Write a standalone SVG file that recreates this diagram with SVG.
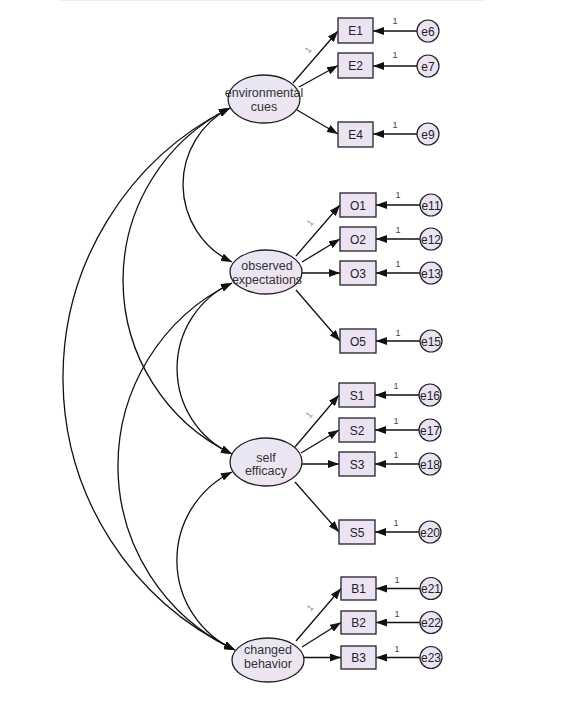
<svg xmlns="http://www.w3.org/2000/svg" width="564" height="701" viewBox="0 0 564 701">
<style>
.lat{fill:url(#g);stroke:#222;stroke-width:1.3}
.obs{fill:#ebe3f3;stroke:#222;stroke-width:1.3}
.err{fill:#ebe3f3;stroke:#222;stroke-width:1.2}
.t{font-family:"Liberation Sans",Arial,sans-serif;fill:#333;text-anchor:middle}
.lt{font-size:12.5px}
.bt{font-size:12px;fill:#222}
.w{font-family:"Liberation Sans",Arial,sans-serif;font-size:9px;fill:#444;text-anchor:middle}
.wr{font-family:"Liberation Sans",Arial,sans-serif;font-size:9px;fill:#888;text-anchor:middle}
.c path,.c line{fill:none;stroke:#111;stroke-width:1.3}
.one{marker-end:url(#ah)}
.two{marker-start:url(#ah);marker-end:url(#ah)}
</style>
<defs>
<linearGradient id="g" x1="0" y1="0" x2="1" y2="1">
<stop offset="0" stop-color="#e6e8f6"/>
<stop offset="1" stop-color="#f2e2f0"/>
</linearGradient>
<marker id="ah" viewBox="0 0 11 8" refX="11" refY="4" markerWidth="11" markerHeight="8" markerUnits="userSpaceOnUse" orient="auto-start-reverse">
<path d="M0,0 L11,4 L0,8 z" fill="#111"/>
</marker>
</defs>
<rect width="564" height="701" fill="#fff"/>
<line x1="58" y1="0.5" x2="485" y2="0.5" stroke="#eeeeee" stroke-width="1"/>
<g id="connectors" class="c">
<path class="two" d="M230,108 A85.8,85.8 0 0 0 232,262"/>
<path class="two" d="M230,108 A192.6,192.6 0 0 0 232,454"/>
<path class="two" d="M230,108 A301.4,301.4 0 0 0 235,650"/>
<path class="two" d="M232,283 A94,94 0 0 0 232,454"/>
<path class="two" d="M232,283 A203.5,203.5 0 0 0 235,650"/>
<path class="two" d="M232,472 A98.3,98.3 0 0 0 235,650"/>
<line class="one" x1="293" y1="83" x2="338" y2="31"/>
<line class="one" x1="299" y1="87" x2="338" y2="65.5"/>
<line class="one" x1="297" y1="110" x2="338" y2="134"/>
<line class="one" x1="296" y1="256" x2="340" y2="205"/>
<line class="one" x1="302" y1="262" x2="340" y2="239"/>
<line class="one" x1="302" y1="273" x2="340" y2="273"/>
<line class="one" x1="296" y1="290" x2="340" y2="341"/>
<line class="one" x1="295" y1="447" x2="339" y2="395"/>
<line class="one" x1="301" y1="453" x2="339" y2="430"/>
<line class="one" x1="302" y1="464" x2="339" y2="464"/>
<line class="one" x1="295" y1="482" x2="339" y2="532"/>
<line class="one" x1="296" y1="641" x2="341" y2="588.5"/>
<line class="one" x1="302" y1="647" x2="341" y2="622.5"/>
<line class="one" x1="304" y1="657.5" x2="341" y2="657.5"/>
<line class="one" x1="417" y1="31" x2="373" y2="31"/>
<line class="one" x1="417" y1="66" x2="373" y2="66"/>
<line class="one" x1="417" y1="134" x2="373" y2="134"/>
<line class="one" x1="420" y1="205" x2="376" y2="205"/>
<line class="one" x1="420" y1="239" x2="376" y2="239"/>
<line class="one" x1="420" y1="273" x2="376" y2="273"/>
<line class="one" x1="420" y1="341" x2="376" y2="341"/>
<line class="one" x1="419" y1="395" x2="375" y2="395"/>
<line class="one" x1="419" y1="430" x2="375" y2="430"/>
<line class="one" x1="419" y1="464" x2="375" y2="464"/>
<line class="one" x1="419" y1="532" x2="375" y2="532"/>
<line class="one" x1="420" y1="588.5" x2="376" y2="588.5"/>
<line class="one" x1="420" y1="622.5" x2="376" y2="622.5"/>
<line class="one" x1="420" y1="657.5" x2="376" y2="657.5"/>
<text class="w" x="395" y="24">1</text>
<text class="w" x="395" y="58">1</text>
<text class="w" x="395" y="128">1</text>
<text class="w" x="398" y="198">1</text>
<text class="w" x="398" y="233">1</text>
<text class="w" x="398" y="267">1</text>
<text class="w" x="398" y="336">1</text>
<text class="w" x="396" y="389">1</text>
<text class="w" x="396" y="424">1</text>
<text class="w" x="396" y="458">1</text>
<text class="w" x="396" y="526">1</text>
<text class="w" x="397" y="583">1</text>
<text class="w" x="397" y="617">1</text>
<text class="w" x="397" y="652">1</text>
<text class="wr" x="308" y="53" transform="rotate(-50 308 50)">1</text>
<text class="wr" x="310" y="226" transform="rotate(-50 310 223)">1</text>
<text class="wr" x="309" y="418" transform="rotate(-50 309 415)">1</text>
<text class="wr" x="310" y="611" transform="rotate(-50 310 608)">1</text>
</g>
<g id="environmental_cues"><ellipse class="lat" cx="264" cy="99" rx="36" ry="24"/><text class="t lt" x="264" y="97">environmental</text><text class="t lt" x="264" y="111">cues</text></g>
<g id="observed_expectations"><ellipse class="lat" cx="266" cy="272" rx="36" ry="22"/><text class="t lt" x="267" y="270">observed</text><text class="t lt" x="267" y="284">expectations</text></g>
<g id="self_efficacy"><ellipse class="lat" cx="266" cy="462" rx="36" ry="24"/><text class="t lt" x="266" y="462">self</text><text class="t lt" x="266" y="475">efficacy</text></g>
<g id="changed_behavior"><ellipse class="lat" cx="268" cy="660" rx="36" ry="22"/><text class="t lt" x="268" y="654">changed</text><text class="t lt" x="268" y="668">behavior</text></g>
<g id="E1"><rect class="obs" x="338" y="18" width="35" height="25"/><text class="t bt" x="355.5" y="35">E1</text></g>
<g id="E2"><rect class="obs" x="338" y="53" width="35" height="25"/><text class="t bt" x="355.5" y="70">E2</text></g>
<g id="E4"><rect class="obs" x="338" y="122" width="35" height="25"/><text class="t bt" x="355.5" y="139">E4</text></g>
<g id="O1"><rect class="obs" x="340" y="193" width="36" height="24"/><text class="t bt" x="358" y="209.5">O1</text></g>
<g id="O2"><rect class="obs" x="340" y="227" width="36" height="24"/><text class="t bt" x="358" y="243.5">O2</text></g>
<g id="O3"><rect class="obs" x="340" y="261" width="36" height="24"/><text class="t bt" x="358" y="277.5">O3</text></g>
<g id="O5"><rect class="obs" x="340" y="329" width="36" height="24"/><text class="t bt" x="358" y="345.5">O5</text></g>
<g id="S1"><rect class="obs" x="339" y="383" width="36" height="24"/><text class="t bt" x="357" y="399.5">S1</text></g>
<g id="S2"><rect class="obs" x="339" y="418" width="36" height="24"/><text class="t bt" x="357" y="434.5">S2</text></g>
<g id="S3"><rect class="obs" x="339" y="452" width="36" height="24"/><text class="t bt" x="357" y="468.5">S3</text></g>
<g id="S5"><rect class="obs" x="339" y="520" width="36" height="24"/><text class="t bt" x="357" y="536.5">S5</text></g>
<g id="B1"><rect class="obs" x="341" y="577" width="35" height="23"/><text class="t bt" x="358.5" y="593">B1</text></g>
<g id="B2"><rect class="obs" x="341" y="611" width="35" height="23"/><text class="t bt" x="358.5" y="627">B2</text></g>
<g id="B3"><rect class="obs" x="341" y="646" width="35" height="23"/><text class="t bt" x="358.5" y="662">B3</text></g>
<g id="e6"><circle class="err" cx="428" cy="31" r="11"/><text class="t bt" x="428" y="35.5">e6</text></g>
<g id="e7"><circle class="err" cx="428" cy="66" r="11"/><text class="t bt" x="428" y="70.5">e7</text></g>
<g id="e9"><circle class="err" cx="428" cy="134" r="11"/><text class="t bt" x="428" y="138.5">e9</text></g>
<g id="e11"><circle class="err" cx="431" cy="205" r="11"/><text class="t bt" x="431" y="209.5">e11</text></g>
<g id="e12"><circle class="err" cx="431" cy="239" r="11"/><text class="t bt" x="431" y="243.5">e12</text></g>
<g id="e13"><circle class="err" cx="431" cy="273" r="11"/><text class="t bt" x="431" y="277.5">e13</text></g>
<g id="e15"><circle class="err" cx="431" cy="341" r="11"/><text class="t bt" x="431" y="345.5">e15</text></g>
<g id="e16"><circle class="err" cx="430" cy="395" r="11"/><text class="t bt" x="430" y="399.5">e16</text></g>
<g id="e17"><circle class="err" cx="430" cy="430" r="11"/><text class="t bt" x="430" y="434.5">e17</text></g>
<g id="e18"><circle class="err" cx="430" cy="464" r="11"/><text class="t bt" x="430" y="468.5">e18</text></g>
<g id="e20"><circle class="err" cx="430" cy="532" r="11"/><text class="t bt" x="430" y="536.5">e20</text></g>
<g id="e21"><circle class="err" cx="431" cy="588.5" r="11"/><text class="t bt" x="431" y="593">e21</text></g>
<g id="e22"><circle class="err" cx="431" cy="622.5" r="11"/><text class="t bt" x="431" y="627">e22</text></g>
<g id="e23"><circle class="err" cx="431" cy="657.5" r="11"/><text class="t bt" x="431" y="662">e23</text></g>
</svg>
